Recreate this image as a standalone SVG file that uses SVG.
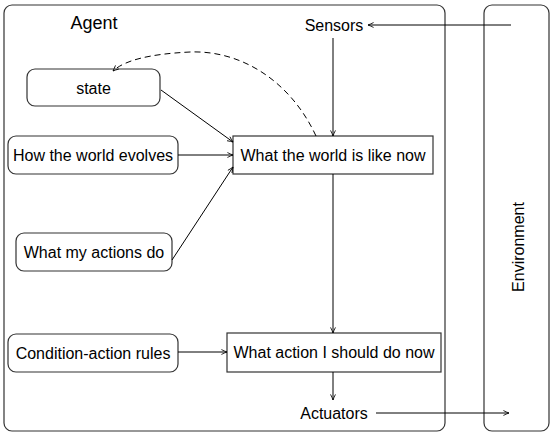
<svg xmlns="http://www.w3.org/2000/svg" width="554" height="438" viewBox="0 0 554 438">
<style>
text{font-family:"Liberation Sans",Arial,sans-serif;font-size:16px;fill:#000;text-anchor:middle;dominant-baseline:central}
.big{font-size:18px}
.frame{fill:#fff;stroke:#333;stroke-width:1.2}
.box{fill:#fff;stroke:#333;stroke-width:1.2}
.ln{fill:none;stroke:#000;stroke-width:1}
</style>
<defs>
<marker id="ah" viewBox="0 0 10 10" refX="9" refY="5" markerWidth="7" markerHeight="7" orient="auto" markerUnits="userSpaceOnUse">
<path d="M1,1.5 Q6,4 9,5 Q6,6 1,8.5" fill="none" stroke="#000" stroke-width="1.2"/>
</marker>
</defs>
<rect width="554" height="438" fill="#fff"/>
<g id="agent"><rect class="frame" x="4" y="5" width="441" height="426" rx="8"/><text class="big" x="94" y="23">Agent</text></g>
<g id="environment"><rect class="frame" x="484" y="5" width="65" height="426" rx="8"/><text transform="translate(518,247) rotate(-90)" x="0" y="0">Environment</text></g>
<g id="sensors"><text x="334" y="25">Sensors</text></g>
<g id="actuators"><text x="334" y="413">Actuators</text></g>
<g id="state"><rect class="box" x="27" y="69" width="133" height="37" rx="8"/><text x="93.5" y="88">state</text></g>
<g id="evolves"><rect class="box" x="8" y="136" width="170" height="38" rx="8"/><text x="93" y="155">How the world evolves</text></g>
<g id="actions"><rect class="box" x="16" y="233" width="156" height="38" rx="8"/><text x="94" y="252">What my actions do</text></g>
<g id="rules"><rect class="box" x="8" y="334" width="170" height="38" rx="8"/><text x="93" y="353">Condition-action rules</text></g>
<g id="world"><rect class="box" x="233" y="136" width="200" height="38"/><text x="333" y="155">What the world is like now</text></g>
<g id="action"><rect class="box" x="227" y="333" width="214" height="39"/><text x="334" y="352.5">What action I should do now</text></g>
<g id="connectors">
<line class="ln" x1="511" y1="25" x2="368" y2="25" marker-end="url(#ah)"/>
<line class="ln" x1="333" y1="38" x2="333" y2="136" marker-end="url(#ah)"/>
<line class="ln" x1="161" y1="90" x2="233" y2="142" marker-end="url(#ah)"/>
<line class="ln" x1="178" y1="155" x2="233" y2="155" marker-end="url(#ah)"/>
<line class="ln" x1="172" y1="260" x2="233" y2="167" marker-end="url(#ah)"/>
<line class="ln" x1="333" y1="174" x2="333" y2="333" marker-end="url(#ah)"/>
<line class="ln" x1="178" y1="352" x2="227" y2="352" marker-end="url(#ah)"/>
<line class="ln" x1="333" y1="372" x2="333" y2="400" marker-end="url(#ah)"/>
<line class="ln" x1="376" y1="413" x2="509" y2="413" marker-end="url(#ah)"/>
<path class="ln" d="M316,136 C290,80 240,50 190,52 C150,54 125,60 113,71" stroke-dasharray="6,4" marker-end="url(#ah)"/>
</g>
</svg>
